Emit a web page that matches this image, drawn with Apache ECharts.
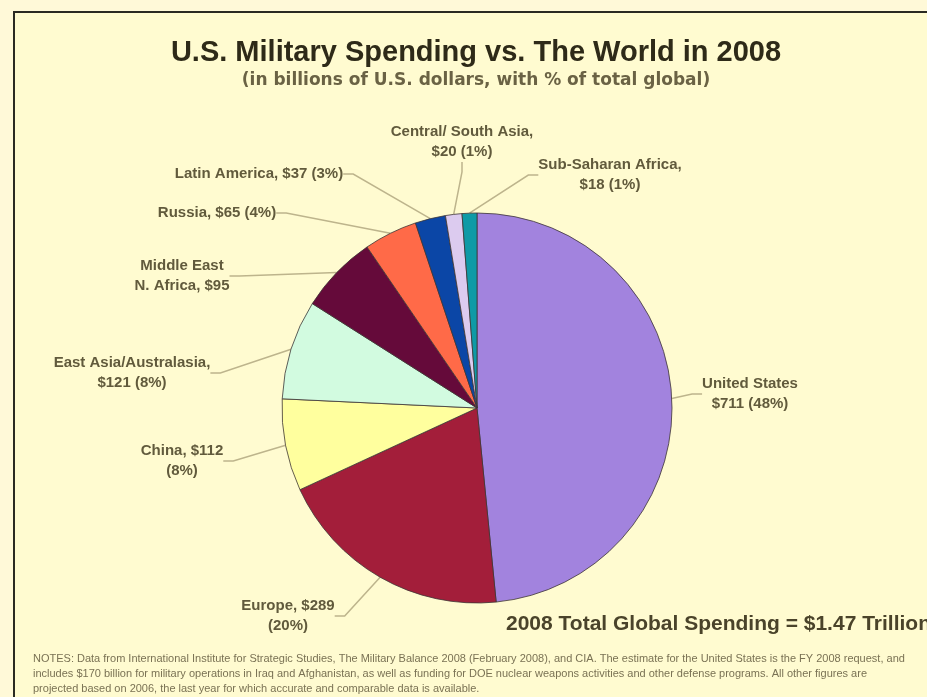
<!DOCTYPE html>
<html>
<head>
<meta charset="utf-8">
<script src="https://cdn.jsdelivr.net/npm/echarts@6/dist/echarts.min.js"></script>
<style>
html,body{margin:0;padding:0;background:#FFF9D8;}
#chart{width:927px;height:697px;}
</style>
</head>
<body>
<div id="chart"></div>
<script>
// ---- data ----
var categories = ['United States', 'Europe', 'China', 'East Asia/Australasia', 'Middle East & N. Africa', 'Russia', 'Latin America', 'Central/South Asia', 'Sub-Saharan Africa'];
var spending = [711, 289, 112, 121, 95, 65, 37, 20, 18];
var labelTexts = [
  'United States\n$711 (48%)',
  'Europe, $289\n(20%)',
  'China, $112\n(8%)',
  'East Asia/Australasia,\n$121 (8%)',
  'Middle East\nN. Africa, $95',
  'Russia, $65 (4%)',
  'Latin America, $37 (3%)',
  'Central/ South Asia,\n$20 (1%)',
  'Sub-Saharan Africa,\n$18 (1%)'
];
var sliceColors = ['#A283DE', '#A31E3A', '#FFFF9E', '#D2FBE0', '#650A3A', '#FF6A48', '#0B46A6', '#DCCBEF', '#0E9AA6'];
var titleText = 'U.S. Military Spending vs. The World in 2008';
var subtitleText = '(in billions of U.S. dollars, with % of total global)';
var totalText = '2008 Total Global Spending = $1.47 Trillion';
var notesText = 'NOTES: Data from International Institute for Strategic Studies, The Military Balance 2008 (February 2008), and CIA. The estimate for the United States is the FY 2008 request, and\nincludes $170 billion for military operations in Iraq and Afghanistan, as well as funding for DOE nuclear weapons activities and other defense programs. All other figures are\nprojected based on 2006, the last year for which accurate and comparable data is available.';

// label anchor positions (layout only)
var labelPos = [
  [750, 394], [288, 616], [182, 461], [132, 373], [182, 276],
  [217, 213], [259, 174], [462, 142], [610, 175]
];

var chart = echarts.init(document.getElementById('chart'));
var data = categories.map(function (c, i) {
  return { name: c, value: spending[i], itemStyle: { color: sliceColors[i] } };
});

chart.setOption({
  backgroundColor: '#FFF9D8',
  animation: false,
  graphic: [
    { type: 'rect', shape: { x: 14, y: 12, width: 940, height: 720 },
      style: { fill: '#FFFBD0', stroke: '#2a2a22', lineWidth: 2 }, z: -10 },
    { type: 'text', x: 476, y: 53,
      style: { text: titleText, font: 'bold 29px Arial, "Liberation Sans", sans-serif', fill: '#2e2a18', align: 'center', verticalAlign: 'middle' } },
    { type: 'text', x: 476, y: 81,
      style: { text: subtitleText, font: 'bold 17px "DejaVu Sans", sans-serif', fill: '#6a6244', align: 'center', verticalAlign: 'middle' } },
    { type: 'text', x: 506, y: 624,
      style: { text: totalText, font: 'bold 21px Arial, "Liberation Sans", sans-serif', fill: '#4a432a', verticalAlign: 'middle' } },
    { type: 'text', x: 33, y: 651,
      style: { text: notesText, font: '11px Arial, "Liberation Sans", sans-serif', fill: '#7a7254', lineHeight: 15 } }
  ],
  series: [{
    type: 'pie',
    center: [477, 408],
    radius: 195,
    startAngle: 90,
    clockwise: true,
    data: data,
    itemStyle: { borderColor: '#3d3535', borderWidth: 0.8 },
    label: {
      show: true,
      formatter: function (p) { return labelTexts[p.dataIndex]; },
      fontFamily: 'Arial, "Liberation Sans", sans-serif',
      fontSize: 15,
      fontWeight: 'bold',
      color: '#615a3c',
      align: 'center',
      lineHeight: 20
    },
    labelLine: { show: true, length: 10, length2: 10, lineStyle: { color: '#BDB48C', width: 1.5 } },
    labelLayout: function (params) {
      var p = labelPos[params.dataIndex];
      return { x: p[0], y: p[1], align: 'center', verticalAlign: 'middle' };
    },
    emphasis: { disabled: true }
  }]
});
</script>
</body>
</html>
